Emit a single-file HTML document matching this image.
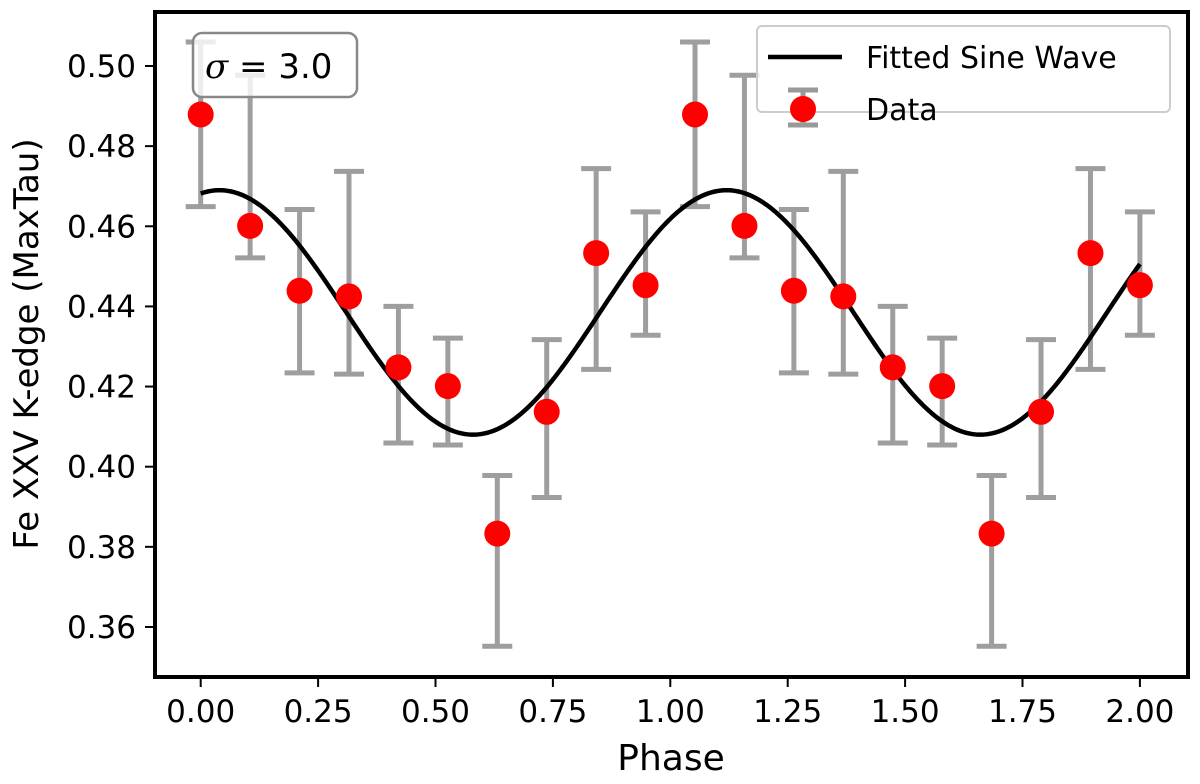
<!DOCTYPE html>
<html><head><meta charset="utf-8"><style>
body{margin:0;background:#fff;}
svg text{font-family:"DejaVu Sans","Liberation Sans",sans-serif;fill:#000;}
</style></head><body>
<svg id="chart" width="1200" height="779" viewBox="0 0 1200 779" xmlns="http://www.w3.org/2000/svg">
<g id="grid"></g>
<g id="marks"></g>
<g id="axes"></g>
</svg>
<script>
const phases = [0,1,2,3,4,5,6,7,8,9,10,11,12,13,14,15,16,17,18,19].map(i=>i*2/19);
const values = [0.4879,0.4601,0.4439,0.4425,0.4248,0.4201,0.3833,0.4137,0.4533,0.4453,
                0.4879,0.4601,0.4439,0.4425,0.4248,0.4201,0.3833,0.4137,0.4533,0.4453];
const errUpper = [0.5060,0.4977,0.4642,0.4737,0.4400,0.4321,0.3978,0.4317,0.4744,0.4636,
                  0.5060,0.4977,0.4642,0.4737,0.4400,0.4321,0.3978,0.4317,0.4744,0.4636];
const errLower = [0.4649,0.4521,0.4234,0.4231,0.4059,0.4054,0.3552,0.3923,0.4243,0.4328,
                  0.4649,0.4521,0.4234,0.4231,0.4059,0.4054,0.3552,0.3923,0.4243,0.4328];
const sineMean = 0.4385, sineAmp = 0.0305, sinePeriod = 1.08, sinePhase = 0.04;
const xTicks = [0,0.25,0.5,0.75,1.0,1.25,1.5,1.75,2.0];
const xTickLabels = ["0.00","0.25","0.50","0.75","1.00","1.25","1.50","1.75","2.00"];
const yTicks = [0.36,0.38,0.40,0.42,0.44,0.46,0.48,0.50];
const yTickLabels = ["0.36","0.38","0.40","0.42","0.44","0.46","0.48","0.50"];

const L=155,R=1188,T=12,B=677;
const xs = v => 200.7 + v*469.6;
const ys = v => 66 + (0.50 - v)*4007;
const NS="http://www.w3.org/2000/svg";
function mk(tag, attrs, parent){const e=document.createElementNS(NS,tag);for(const k in attrs)e.setAttribute(k,attrs[k]);parent.appendChild(e);return e;}
const marks=document.getElementById('marks'), axes=document.getElementById('axes');

phases.forEach((p,i)=>{
  const g=mk('g',{stroke:'#999',"stroke-width":5,opacity:0.95},marks);
  
  
  const x=xs(p), y1=ys(errUpper[i]), y2=ys(errLower[i]);
  mk('line',{x1:x,x2:x,y1:y1,y2:y2},g);
  mk('line',{x1:x-15,x2:x+15,y1:y1,y2:y1},g);
  mk('line',{x1:x-15,x2:x+15,y1:y2,y2:y2},g);
});
let d='';
for(let k=0;k<=400;k++){const p=2*k/400;const v=sineMean+sineAmp*Math.cos(2*Math.PI*(p-sinePhase)/sinePeriod);d+=(k?'L':'M')+xs(p).toFixed(2)+' '+ys(v).toFixed(2);}
const curve=mk('path',{d:d,fill:'none',stroke:'#000',"stroke-width":4.5},marks);


phases.forEach((p,i)=>{
  const c=mk('ellipse',{cx:xs(p),cy:ys(values[i]),rx:13,ry:13,fill:'#ff0000'},marks);
  
  
});
const fr=mk('rect',{x:L,y:T,width:R-L,height:B-T,fill:'none',stroke:'#000',"stroke-width":4},axes);


xTicks.forEach((t,i)=>{
  const x=xs(t);
  mk('line',{x1:x,x2:x,y1:B,y2:B+10,stroke:'#000',"stroke-width":2},axes);
  const tx=mk('text',{x:x,y:722,"text-anchor":"middle","font-size":31},axes);
  tx.textContent=xTickLabels[i];
  
  
});
yTicks.forEach((t,i)=>{
  const y=ys(t);
  mk('line',{x1:L-10,x2:L,y1:y,y2:y,stroke:'#000',"stroke-width":2},axes);
  const tx=mk('text',{x:136,y:y+11,"text-anchor":"end","font-size":31},axes);
  tx.textContent=yTickLabels[i];
  
  
});
</script>
<svg style="position:absolute;left:0;top:0" width="1200" height="779">
<text x="671" y="770" text-anchor="middle" font-size="36">Phase</text>
<text x="0" y="0" transform="translate(38,344) rotate(-90)" text-anchor="middle" font-size="34">Fe XXV K-edge (MaxTau)</text>
<g>
<rect x="193" y="33" width="164" height="64" rx="9" fill="#fff" fill-opacity="0.8" stroke="#888" stroke-width="2.5"/>
<text x="205" y="78" font-size="34"><tspan font-style="italic" font-family="DejaVu Serif, serif">σ</tspan> = 3.0</text>
</g>
<g>
<rect x="757" y="26" width="413" height="86" rx="5" fill="#fff" fill-opacity="0.8" stroke="#ccc" stroke-width="2"/>
<line x1="768" y1="57" x2="842" y2="57" stroke="#000" stroke-width="4.5"/>
<text x="866" y="68" font-size="30">Fitted Sine Wave</text>
<g stroke="#999" stroke-width="5"><line x1="803" y1="90" x2="803" y2="125"/><line x1="788" y1="90" x2="818" y2="90"/><line x1="788" y1="125" x2="818" y2="125"/></g>
<circle cx="803" cy="109" r="13" fill="#ff0000"/>
<text x="866" y="120" font-size="30">Data</text>
</g>
</svg>
</body></html>
